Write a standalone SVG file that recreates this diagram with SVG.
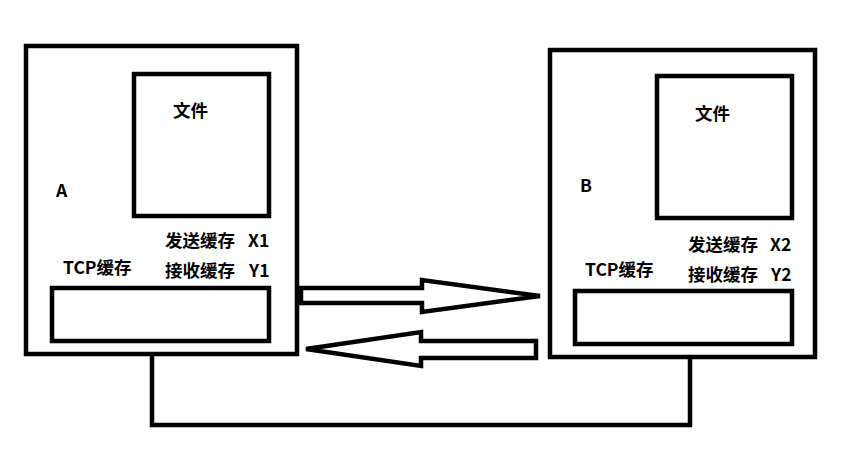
<svg xmlns="http://www.w3.org/2000/svg" width="849" height="460" viewBox="0 0 849 460">
<style>
.b{fill:none;stroke:#000;stroke-width:4.5;}
.t{font-family:"Noto Sans CJK SC","Liberation Sans",sans-serif;font-weight:bold;font-size:17.5px;fill:#000;}
</style>
<rect width="849" height="460" fill="#fff"/>
<g id="hostA">
<rect class="b" x="26" y="46" width="271" height="308"/>
<text class="t" x="56" y="197" font-size="16">A</text>
</g>
<g id="fileA">
<rect class="b" x="134" y="74" width="135" height="142"/>
<text class="t" x="173" y="117">文件</text>
</g>
<g id="tcpA">
<text class="t" x="63" y="274">TCP缓存</text>
<text class="t" x="165" y="247">发送缓存</text>
<text class="t" x="248" y="247">X1</text>
<text class="t" x="165" y="277">接收缓存</text>
<text class="t" x="249" y="277">Y1</text>
<rect class="b" x="52" y="288" width="217" height="53"/>
</g>
<g id="hostB">
<rect class="b" x="550" y="50" width="265" height="307"/>
<text class="t" x="580" y="192" font-size="16">B</text>
</g>
<g id="fileB">
<rect class="b" x="657" y="76" width="135" height="142"/>
<text class="t" x="695" y="120">文件</text>
</g>
<g id="tcpB">
<text class="t" x="585" y="276">TCP缓存</text>
<text class="t" x="688" y="251">发送缓存</text>
<text class="t" x="770" y="251">X2</text>
<text class="t" x="688" y="281">接收缓存</text>
<text class="t" x="771" y="281">Y2</text>
<rect class="b" x="575" y="291" width="217" height="53"/>
</g>
<g id="connectors">
<polygon class="b" points="301,288 422,288 422,280 540,296 422,312 422,303 301,303"/>
<polygon class="b" points="536,341 421,341 421,332 306,349 421,366 421,358 536,358"/>
<polyline class="b" points="152,354 152,425 690,425 690,357"/>
</g>
</svg>
